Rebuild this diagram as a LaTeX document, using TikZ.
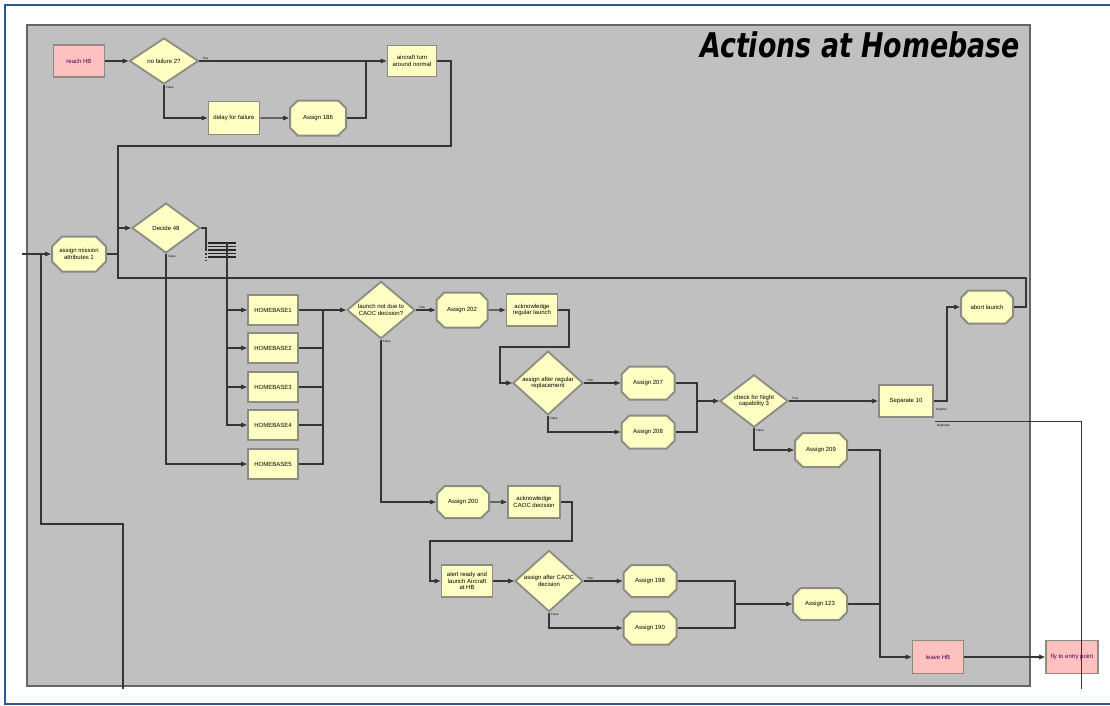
\documentclass[tikz,border=0pt]{standalone}
\usepackage{fontspec}
\setmainfont{Liberation Sans}
\newfontfamily\titlefont{DejaVu Sans}
\usetikzlibrary{shapes.geometric,shapes.misc,arrows.meta}
\definecolor{panelc}{HTML}{C0C0C0}
\definecolor{boxy}{HTML}{FFFFC4}
\definecolor{boxp}{HTML}{FFC0C0}
\definecolor{bordc}{HTML}{8C8C82}
\definecolor{wirec}{HTML}{353535}
\definecolor{frameblue}{HTML}{2C5896}
\begin{document}
\begin{tikzpicture}[x=1pt,y=-1pt,
  every node/.style={font=\fontsize{6}{6.8}\selectfont, align=center, inner sep=0pt},
  proc/.style={rectangle, fill=boxy, draw=bordc, line width=1.8pt, minimum width=51pt, minimum height=32pt},
  hbbox/.style={proc, minimum width=50pt, minimum height=30pt},
  asg/.style={chamfered rectangle, chamfered rectangle xsep=5pt, chamfered rectangle ysep=5pt, fill=boxy, draw=bordc, line width=2pt, minimum width=53pt, minimum height=33pt},
  dec/.style={diamond, fill=boxy, draw=bordc, line width=1.8pt, minimum width=68pt, minimum height=48pt},
  term/.style={rectangle, fill=boxp, draw=bordc, line width=1.8pt, minimum width=51pt, minimum height=32pt, text=black!60!red!70!blue},
  conn/.style={draw=wirec, line width=1.3pt},
  arr/.style={conn, -{Triangle[length=6pt,width=4.5pt]}},
  lab/.style={font=\fontsize{3}{3}\selectfont, text=black}]
\useasboundingbox (0,0) rectangle (1110,705);
% outer frame
\draw[frameblue, line width=2.6pt] (1110,5) -- (5,5) -- (5,704) -- (1110,704);
% panel
\draw[fill=panelc, draw=black!60, line width=1.4pt] (27,25) rectangle (1030,686);
\node[anchor=base west, font=\titlefont\bfseries\itshape\fontsize{34}{34}\selectfont] (title) at (700,57) {\scalebox{0.79}[1]{Actions at Homebase}};

% nodes
\node[term] (reachHB) at (79,61) {reach HB};
\node[dec, minimum width=69pt, minimum height=46pt] (nofail) at (164,61) {no failure 2?};
\node[proc, minimum width=49pt, minimum height=31pt] (aircraft) at (412,61) {aircraft turn\\around normal};
\node[proc, minimum height=33pt] (delay) at (234,118) {delay for failure};
\node[asg, minimum width=56pt, minimum height=35pt] (A186) at (318,118) {Assign 186};
\node[asg, minimum width=54pt, minimum height=35pt] (assignmission) at (79,254) {assign mission\\attributes 1};
\node[dec, minimum height=50pt] (decide48) at (166,228) {Decide 48};
\node[hbbox] (HB1) at (273,310) {HOMEBASE1};
\node[hbbox] (HB2) at (273,348) {HOMEBASE2};
\node[hbbox] (HB3) at (273,387) {HOMEBASE3};
\node[hbbox] (HB4) at (273,425) {HOMEBASE4};
\node[hbbox] (HB5) at (273,464) {HOMEBASE5};
\node[dec, minimum height=46pt] (launchnot) at (381,310) {launch not due to\\CAOC decision?};
\node[asg, minimum width=51pt, minimum height=35pt] (A202) at (462,310) {Assign 202};
\node[proc] (ackreg) at (532,310) {acknowledge\\regular launch};
\node[dec, minimum width=70pt, minimum height=49pt] (afterreg) at (548,383) {assign after regular\\replacement};
\node[asg] (A207) at (648,383) {Assign 207};
\node[asg] (A208) at (648,432) {Assign 208};
\node[dec] (night) at (754,401) {check for Night\\capability 3};
\node[proc, minimum width=54pt, line width=2.2pt] (sep10) at (906,401) {Separate 10};
\node[asg, minimum width=52pt] (abort) at (987,307) {abort launch};
\node[asg, minimum width=52pt, minimum height=34pt] (A209) at (821,450) {Assign 209};
\node[asg, minimum width=52pt, minimum height=32pt] (A200) at (463,502) {Assign 200};
\node[proc, minimum width=52pt] (ackcaoc) at (534,502) {acknowledge\\CAOC decision};
\node[proc] (alert) at (467,581) {alert ready and\\launch Aircraft\\at HB};
\node[dec] (aftercaoc) at (549,581) {assign after CAOC\\decision};
\node[asg, minimum height=32pt] (A198) at (650,581) {Assign 198};
\node[asg] (A190) at (650,628) {Assign 190};
\node[asg, minimum width=54pt, minimum height=32pt] (A123) at (820,604) {Assign 123};
\node[term, minimum height=33pt] (leaveHB) at (938,657) {leave HB};
\node[term, minimum width=52pt, minimum height=33pt] (fly) at (1072,657) {fly to entry point};

% junction coordinates
\coordinate (j1) at (366,61);
\coordinate (c1) at (451,146);
\coordinate (cm) at (118,228);
\coordinate (c2) at (1026,278);
\coordinate (in1) at (22,254);
\coordinate (in2) at (41,254);
\coordinate (b2) at (41,524);
\coordinate (b1) at (123,689);
\coordinate (d48o) at (206,228);
\coordinate (dv) at (227,243);
\coordinate (jh) at (323,310);
\coordinate (k1) at (569,347);
\coordinate (k2) at (500,383);
\coordinate (jn) at (697,401);
\coordinate (s1) at (947,401);
\coordinate (s0) at (935,421);
\coordinate (s2) at (1081,689);
\coordinate (q1) at (572,541);
\coordinate (q2) at (430,581);
\coordinate (ja) at (735,604);
\coordinate (jl) at (880,657);

% connectors
\draw[arr] (reachHB) -- (nofail);
\draw[arr] (nofail.east) -- (aircraft.west);
\draw[arr] (nofail.south) |- (delay.west);
\draw[arr] (delay) -- (A186);
\draw[conn] (A186.east) -| (j1);
\draw[arr] (aircraft.east) -| (c1) -| (cm) -- (decide48.west);
\draw[conn] (assignmission.east) -| (cm);
\draw[conn] (abort.east) -| (c2) -| (cm);
\draw[arr] (in1) -- (assignmission.west);
\draw[conn] (in2) -- (b2) -| (b1);
\draw[conn] (decide48.east) -- (d48o) -- ++(0,22);
\draw[conn, dotted] (206,250) -- (206,262);
\foreach \yy in {243,246.5,250,253.5,257}{\draw[black!85, line width=1.2pt] (208,\yy) -- (236,\yy);}
\foreach \i in {1,2,3,4}{\draw[arr] (dv) |- (HB\i.west);}
\draw[arr] (decide48.south) |- (HB5.west);
\draw[arr] (HB1.east) -- (launchnot.west);
\foreach \i in {2,3,4,5}{\draw[conn] (HB\i.east) -| (jh);}
\draw[arr] (launchnot.east) -- (A202.west);
\draw[arr] (A202) -- (ackreg);
\draw[arr] (ackreg.east) -| (k1) -| (k2) -- (afterreg.west);
\draw[arr] (afterreg.east) -- (A207.west);
\draw[arr] (afterreg.south) |- (A208.west);
\draw[conn] (A207.east) -| (jn);
\draw[conn] (A208.east) -| (jn);
\draw[arr] (jn) -- (night.west);
\draw[arr] (night.east) -- (sep10.west);
\draw[arr] (night.south) |- (A209.west);
\draw[arr] (sep10.east) -- (s1) |- (abort.west);
\draw[conn, line width=0.9pt] (s0) -| (s2);
\draw[arr] (launchnot.south) |- (A200.west);
\draw[arr] (A200) -- (ackcaoc);
\draw[arr] (ackcaoc.east) -| (q1) -| (q2) -- (alert.west);
\draw[arr] (alert) -- (aftercaoc);
\draw[arr] (aftercaoc.east) -- (A198.west);
\draw[arr] (aftercaoc.south) |- (A190.west);
\draw[conn] (A198.east) -| (ja);
\draw[conn] (A190.east) -| (ja);
\draw[arr] (ja) -- (A123.west);
\draw[arr] (A209.east) -| (jl) -- (leaveHB.west);
\draw[conn] (A123.east) -- (A123.east -| jl);
\draw[arr] (leaveHB) -- (fly);

% decision labels
\foreach \d in {nofail,launchnot,afterreg,night,aftercaoc}{
  \node[lab, anchor=south west] (\d-t) at ([xshift=3pt,yshift=1pt]\d.east) {True};
  \node[lab, anchor=north west] (\d-f) at ([xshift=2pt,yshift=-1pt]\d.south) {False};
}
\node[lab, anchor=north west] (d48-f) at ([xshift=2pt,yshift=-1pt]decide48.south) {False};
\node[lab, anchor=west] (sep-o) at (936,410) {Original};
\node[lab, anchor=west] (sep-d) at (937,426) {Duplicate};
\end{tikzpicture}
\end{document}
